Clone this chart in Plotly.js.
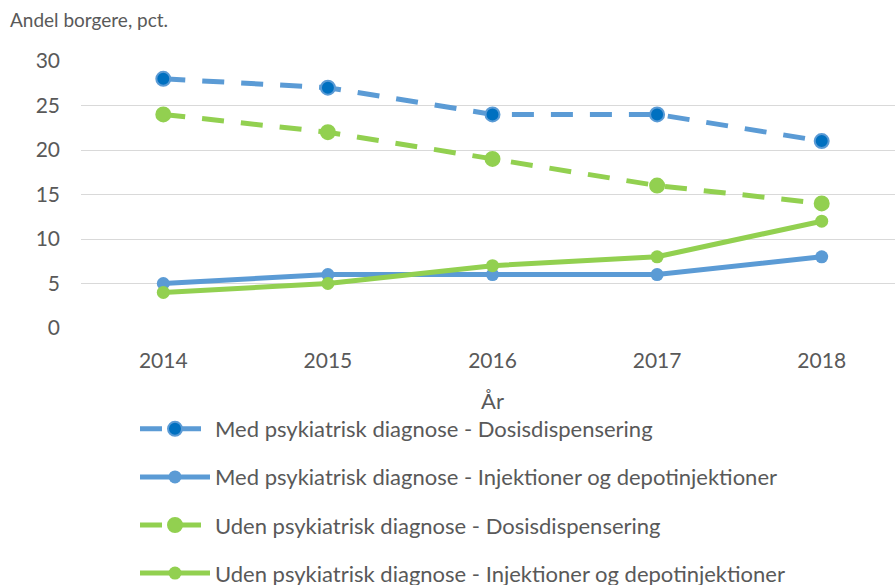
<!DOCTYPE html>
<html><head><meta charset="utf-8">
<script src="https://cdn.plot.ly/plotly-3.0.1.min.js"></script>
<style>html,body{margin:0;padding:0;overflow:hidden;background:#fff;}#chart{width:905px;height:585px;}</style>
</head><body><div id="chart"></div>
<script>
const years = ['2014','2015','2016','2017','2018'];
const medDosis = [28, 27, 24, 24, 21];
const medInj = [5, 6, 6, 6, 8];
const udenDosis = [24, 22, 19, 16, 14];
const udenInj = [4, 5, 7, 8, 12];
const names = [
  'Med psykiatrisk diagnose - Dosisdispensering',
  'Med psykiatrisk diagnose - Injektioner og depotinjektioner',
  'Uden psykiatrisk diagnose - Dosisdispensering',
  'Uden psykiatrisk diagnose - Injektioner og depotinjektioner'
];
const yTicks = [0,5,10,15,20,25,30];
const blue = '#5B9BD5', darkBlue = '#0070C0', green = '#92D050';
const FONT = 'Lato, "Open Sans", sans-serif';
const dashPat = '22px,17px';
function tr(y, name, color, dashed, grp){
  return {x: years, y: y, name: name, type:'scatter', mode:'lines+markers', legendgroup: grp,
    line:{color: color, width:5, dash: dashed ? dashPat : 'solid'},
    marker: dashed ? {size:14, color: color===blue?darkBlue:green, line:{color: color, width:2}}
                   : {size:13, color: color, line:{width:0}}};
}
const data = [
  tr(medDosis, names[0], blue, true, 'a'),
  tr(medInj, names[1], blue, false, 'b'),
  tr(udenDosis, names[2], green, true, 'c'),
  tr(udenInj, names[3], green, false, 'd')
];
const layout = {
  width: 905, height: 585,
  margin: {l:81, r:1, t:61, b:257, autoexpand:false},
  paper_bgcolor:'#fff', plot_bgcolor:'#fff',
  font: {family: FONT, color:'#595959'},
  title: {text:'Andel borgere, pct.', x: 10/905, xanchor:'left', xref:'container', y: 1-20/585, yanchor:'middle', yref:'container', font:{size:19, color:'#595959', family: FONT}},
  xaxis: {type:'category', range:[-0.5,4.5], showgrid:false, zeroline:false, showline:false, ticks:'', tickangle:0,
    tickfont:{size:21, color:'#595959'}, ticklabelstandoff: 18,
    title:{text:'År', font:{size:22, color:'#595959'}, standoff: 22}},
  yaxis: {range:[0,30], tickvals: yTicks, showgrid:true, gridcolor:'#D9D9D9', gridwidth:1, zeroline:false,
    showline:false, ticks:'', tickfont:{size:21, color:'#595959'}, ticklabelstandoff: 20},
  showlegend: true,
  legend: {orientation:'v', xref:'container', yref:'container', x: 135/905, xanchor:'left', y: 1-408/585, yanchor:'top',
    font:{size:22, color:'#595959'}, tracegroupgap: 16.5, itemwidth: 70, bgcolor:'rgba(0,0,0,0)'}
};
Plotly.newPlot('chart', data, layout, {displayModeBar:false, staticPlot:true});
</script></body></html>
